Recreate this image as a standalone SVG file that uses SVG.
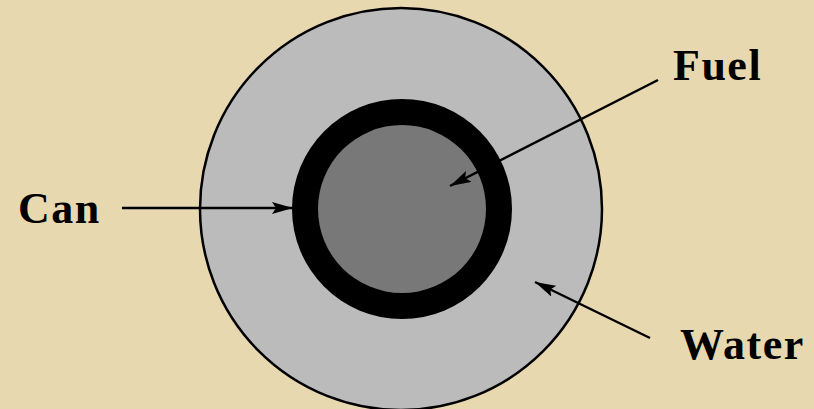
<svg xmlns="http://www.w3.org/2000/svg" width="814" height="409" viewBox="0 0 814 409">
<defs>
<style>
.lbl{font-family:"Liberation Serif","Times New Roman",Times,serif;font-weight:bold;font-size:44px;fill:#000;letter-spacing:1.5px}
.con{stroke:#000;stroke-width:2.5;fill:none}
</style>
<marker id="ah" viewBox="0 0 21 12" refX="21" refY="6" markerWidth="21" markerHeight="12" markerUnits="userSpaceOnUse" orient="auto">
<path d="M0,0 L21,6 L0,12 L4,6 Z" fill="#000"/>
</marker>
</defs>
<rect width="814" height="409" fill="#E8D8B0"/>
<g id="water"><circle cx="401" cy="209" r="201" fill="#BBBBBB" stroke="#000" stroke-width="2.5"/></g>
<g id="can"><circle cx="402" cy="209" r="110" fill="#000"/></g>
<g id="fuel"><circle cx="402" cy="209" r="84" fill="#787878"/></g>
<g id="connectors">
<line class="con" x1="122" y1="208" x2="293" y2="208" marker-end="url(#ah)"/>
<line class="con" x1="658" y1="80" x2="450" y2="186" marker-end="url(#ah)"/>
<line class="con" x1="650" y1="338" x2="535" y2="282" marker-end="url(#ah)"/>
</g>
<g id="labels">
<text class="lbl" font-family="Liberation Serif, serif" x="18" y="223">Can</text>
<text class="lbl" font-family="Liberation Serif, serif" x="673" y="80">Fuel</text>
<text class="lbl" font-family="Liberation Serif, serif" x="680" y="359">Water</text>
</g>
</svg>
